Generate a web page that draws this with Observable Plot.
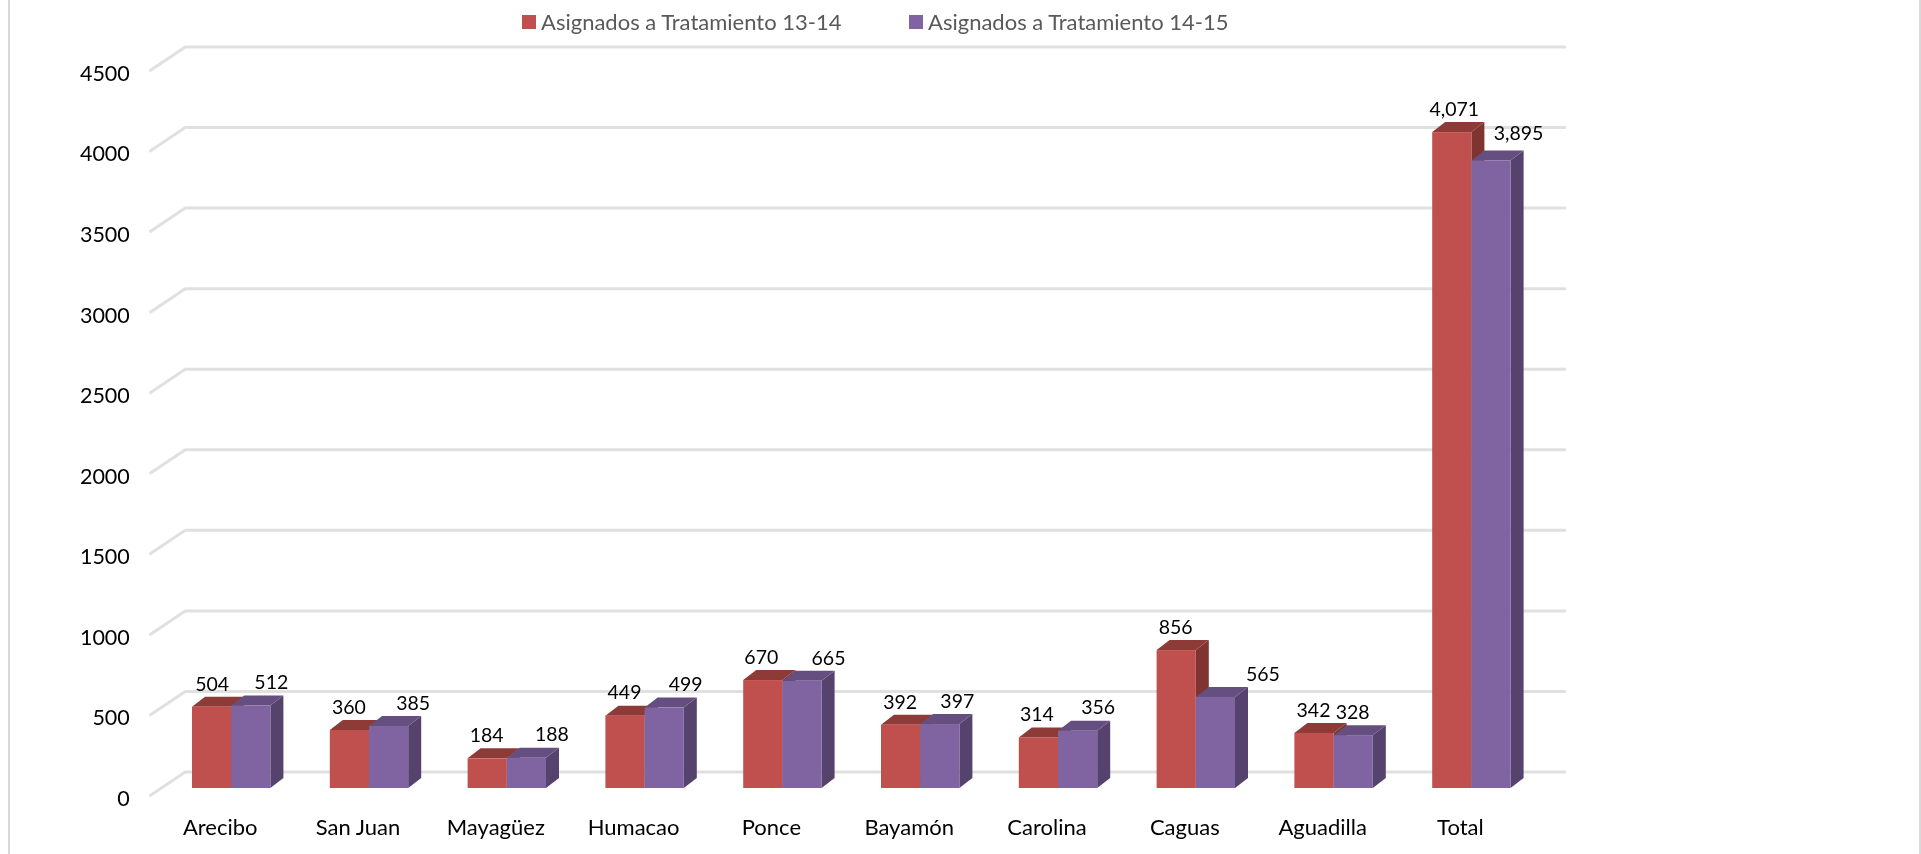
<!DOCTYPE html>
<html lang="es">
<head>
<meta charset="utf-8">
<script src="https://cdn.jsdelivr.net/npm/d3@7"></script>
<script src="https://cdn.jsdelivr.net/npm/@observablehq/plot@0.6"></script>
<style>
html,body{margin:0;padding:0;background:#fff;width:1921px;height:854px;overflow:hidden}
#wrap{position:relative;width:1921px;height:854px;font-family:Lato,sans-serif;filter:blur(0.4px)}
#wrap svg{position:absolute;left:0;top:0;font-family:Lato,sans-serif}
.edge{position:absolute;top:0;bottom:0;width:2px;background:#d9d9d9}
.legend{position:absolute;top:10px;height:24px;line-height:24px;color:#595959;font-size:22px;white-space:nowrap}
.legend i{position:absolute;left:0;top:5px;width:14px;height:14px}
.legend span{position:absolute;left:19px;top:0}
</style>
</head>
<body>
<div id="wrap"></div>
<script>
const categories = ["Arecibo","San Juan","Mayagüez","Humacao","Ponce","Bayamón","Carolina","Caguas","Aguadilla","Total"];
const series1Name = "Asignados a Tratamiento 13-14";
const series2Name = "Asignados a Tratamiento 14-15";
const series1 = [504,360,184,449,670,392,314,856,342,4071];
const series2 = [512,385,188,499,665,397,356,565,328,3895];
const yTicks = [0,500,1000,1500,2000,2500,3000,3500,4000,4500];

// drawing settings, separate from the data
const barW = 39.2, depthX = 13, depthY = 10, step = 137.8;
const colors = {
  a:{front:"#C0504D", top:"#8E3A37", side:"#7F3431"},
  b:{front:"#8064A2", top:"#654F80", side:"#55426D"}
};
const nudgeA = [0,-1,-1,-1,-2,-1,-2,-1,-1,2];
const nudgeB = [20,24,25,21,26,17,20,47,-1,27];
const nudgeBy = [0,0,0,0,0,0,0,0,0,-4];

const rowsA = categories.map((c,i)=>({c,v:series1[i]}));
const rowsB = categories.map((c,i)=>({c,v:series2[i]}));

const svgNS = "http://www.w3.org/2000/svg";
function depthFaces(rows, palette, offset){
  return (index, {x,y}) => {
    const g = document.createElementNS(svgNS,"g");
    rows.forEach(r=>{
      const l = x(r.c) + step/2 + offset, rgt = l + barW, t = y(r.v), b = y(0);
      const poly = (pts,fill)=>{
        const p = document.createElementNS(svgNS,"polygon");
        p.setAttribute("points",pts.map(q=>q.join(",")).join(" "));
        p.setAttribute("fill",fill);
        g.appendChild(p);
      };
      poly([[rgt,t],[rgt+depthX,t-depthY],[rgt+depthX,b-depthY],[rgt,b]],palette.side);
      poly([[l,t],[l+depthX,t-depthY],[rgt+depthX,t-depthY],[rgt,t]],palette.top);
    });
    return g;
  };
}
function wallDiagonals(index,{y}){
  const g = document.createElementNS(svgNS,"g");
  yTicks.forEach(t=>{
    const ln = document.createElementNS(svgNS,"line");
    ln.setAttribute("x1",149.5); ln.setAttribute("y1",y(t)+8);
    ln.setAttribute("x2",186); ln.setAttribute("y2",y(t)-16.5);
    ln.setAttribute("stroke","#e0e0e0"); ln.setAttribute("stroke-width",3);
    g.appendChild(ln);
  });
  return g;
}
const fmt = d3.format(",");
const labelMarks = [];
rowsA.forEach((r,i)=>labelMarks.push(Plot.text([r],{x:"c",y:"v",text:d=>fmt(d.v),dx:-barW/2+nudgeA[i],dy:-23,fontSize:19.5,fill:"#000"})));
rowsB.forEach((r,i)=>labelMarks.push(Plot.text([r],{x:"c",y:"v",text:d=>fmt(d.v),dx:barW/2+nudgeB[i],dy:-23+nudgeBy[i],fontSize:19.5,fill:"#000"})));
const barInset = (step-barW)/2;

const chart = Plot.plot({
  width:1921, height:854,
  marginLeft:162.3, marginRight:380.7, marginTop:63, marginBottom:66,
  style:{background:"transparent",overflow:"visible"},
  x:{domain:categories,padding:0,round:false,label:null},
  y:{domain:[0,4500],label:null},
  marks:[
    Plot.ruleY(yTicks,{dy:-16.5,insetLeft:23.7,insetRight:-25.6,stroke:"#e0e0e0",strokeWidth:3}),
    wallDiagonals,
    depthFaces(rowsA,colors.a,-barW),
    Plot.barY(rowsA,{x:"c",y:"v",fill:colors.a.front,dx:-barW/2,insetLeft:barInset,insetRight:barInset}),
    depthFaces(rowsB,colors.b,0),
    Plot.barY(rowsB,{x:"c",y:"v",fill:colors.b.front,dx:barW/2,insetLeft:barInset,insetRight:barInset}),
    ...labelMarks,
    Plot.axisY({ticks:yTicks,tickFormat:d=>String(d),tickSize:0,tickPadding:33,dy:10.5,fontSize:21.5,fill:"#000",label:null}),
    Plot.axisX({tickSize:0,tickPadding:30.5,dx:-11.5,fontSize:22,fill:"#000",label:null})
  ]
});
const wrap = document.getElementById("wrap");
wrap.appendChild(chart);
[[8],[1919]].forEach(([x])=>{const e=document.createElement("div");e.className="edge";e.style.left=x+"px";wrap.appendChild(e);});
[[522,series1Name,colors.a.front],[909,series2Name,colors.b.front]].forEach(([x,t,c])=>{
  const d=document.createElement("div");d.className="legend";d.style.left=x+"px";
  const i=document.createElement("i");i.style.background=c;
  const s=document.createElement("span");s.textContent=t;
  d.append(i,s);wrap.appendChild(d);
});
</script>
</body>
</html>
